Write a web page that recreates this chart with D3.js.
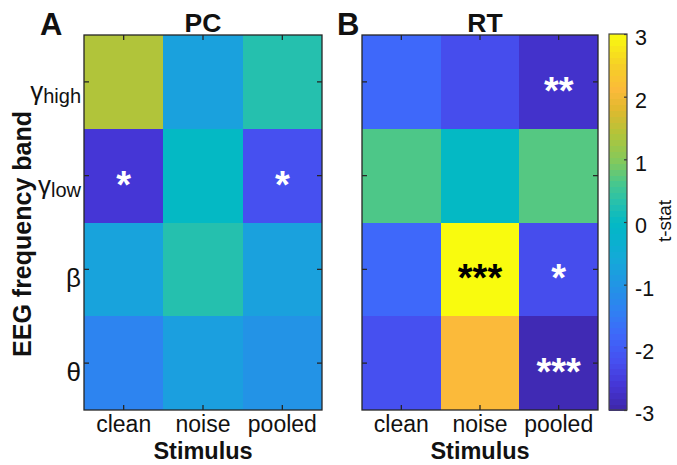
<!DOCTYPE html>
<html><head><meta charset="utf-8">
<script src="https://cdn.jsdelivr.net/npm/d3@7"></script>
<style>
html,body{margin:0;padding:0;background:#fff;}
svg{display:block;font-family:"Liberation Sans",Arial,Helvetica,sans-serif;}
</style></head>
<body><svg id="chart" width="677" height="465"></svg>
<script>
// ---------- data ----------
const stimuli = ["clean", "noise", "pooled"];
const bandSymbols = ["γ", "γ", "β", "θ"];
const bandSubs = ["high", "low", "", ""];
const bandKeys = ["ghigh", "glow", "beta", "theta"];
const pcValues = [
  [1.4, -0.75, 0.3],
  [-2.6, 0.0, -2.2],
  [-0.7, 0.3, -0.75],
  [-1.35, -0.8, -1.05]
];
const rtValues = [
  [-1.8, -2.25, -2.7],
  [0.65, 0.0, 0.7],
  [-1.8, 3.0, -2.25],
  [-2.2, 2.1, -2.9]
];
const pcStars = [["", "", ""], ["*", "", "*"], ["", "", ""], ["", "", ""]];
const rtStars = [["", "", "**"], ["", "", ""], ["", "***", "*"], ["", "", "***"]];
const colorbarTicks = [-3, -2, -1, 0, 1, 2, 3];
const panelTitles = ["PC", "RT"];
const panelLetters = ["A", "B"];

// parula-like colormap stops (value -> colour)
const cmapValues = [-3.0, -2.6, -2.2, -1.8, -1.4, -1.0, -0.6, -0.2, 0.0, 0.3, 0.6, 1.0, 1.4, 1.8, 2.1, 2.5, 3.0];
const cmapColors = ["#3e26a8", "#4536d6", "#4650f0", "#3e68fa", "#2f81f2", "#2195e4", "#15a8d9", "#06b4cb",
  "#04b9c4", "#25c0ae", "#45c78f", "#86c95a", "#b1c43a", "#e0b92e", "#fbba3a", "#f6cf27", "#f9fb0e"];

// ---------- drawing ----------
const svg = d3.select("#chart");
const color = d3.scaleLinear().domain(cmapValues).range(cmapColors).interpolate(d3.interpolateRgb).clamp(true);
const plotTop = 35, plotBottom = 410;
const y = d3.scaleBand().domain(bandKeys).range([plotTop, plotBottom]).padding(0);
const frameColor = "#262626";

const panels = [
  {x0: 84, x1: 322, values: pcValues, stars: pcStars, title: panelTitles[0], letter: panelLetters[0], letterX: 40, yLabels: true},
  {x0: 362, x1: 598, values: rtValues, stars: rtStars, title: panelTitles[1], letter: panelLetters[1], letterX: 337, yLabels: false}
];

panels.forEach(p => {
  const x = d3.scaleBand().domain(stimuli).range([p.x0, p.x1]).padding(0);
  const g = svg.append("g");
  const cells = [];
  bandKeys.forEach((b, i) => stimuli.forEach((s, j) => cells.push({b, s, v: p.values[i][j], star: p.stars[i][j]})));
  g.selectAll("rect.cell").data(cells).join("rect")
    .attr("x", d => x(d.s)).attr("y", d => y(d.b))
    .attr("width", x.bandwidth()).attr("height", y.bandwidth())
    .attr("fill", d => color(d.v)).attr("shape-rendering", "crispEdges");
  g.selectAll("text.star").data(cells.filter(d => d.star)).join("text")
    .attr("x", d => x(d.s) + x.bandwidth() / 2)
    .attr("y", d => y(d.b) + y.bandwidth() / 2 + 22)
    .attr("text-anchor", "middle")
    .attr("font-size", 38).attr("font-weight", "bold")
    .attr("fill", d => d.v > 2.5 ? "#000" : "#fff")
    .text(d => d.star);

  // axes (ticks inward)
  const axB = d3.axisBottom(x).tickSize(-5).tickSizeOuter(0).tickPadding(10);
  const axT = d3.axisTop(x).tickSize(-5).tickSizeOuter(0).tickFormat("");
  const axL = d3.axisLeft(y).tickSize(-5).tickSizeOuter(0).tickFormat("");
  const axR = d3.axisRight(y).tickSize(-5).tickSizeOuter(0).tickFormat("");
  const gb = g.append("g").attr("transform", `translate(0,${plotBottom})`).call(axB);
  g.append("g").attr("transform", `translate(0,${plotTop})`).call(axT);
  g.append("g").attr("transform", `translate(${p.x0},0)`).call(axL);
  g.append("g").attr("transform", `translate(${p.x1},0)`).call(axR);
  g.selectAll(".domain").remove();
  g.selectAll(".tick line").attr("stroke", frameColor).attr("stroke-width", 1.3);
  gb.selectAll(".tick text").attr("font-size", 23).attr("fill", "#111")
    .attr("font-family", "'Liberation Sans',Arial,sans-serif").attr("dy", null).attr("y", 22);
  g.append("rect").attr("x", p.x0).attr("y", plotTop).attr("width", p.x1 - p.x0).attr("height", plotBottom - plotTop)
    .attr("fill", "none").attr("stroke", frameColor).attr("stroke-width", 1.3);

  // x label
  g.append("text").attr("x", (p.x0 + p.x1) / 2).attr("y", 459).attr("text-anchor", "middle")
    .attr("font-size", 23.5).attr("font-weight", "bold").attr("fill", "#111").text("Stimulus");
  // title
  g.append("text").attr("x", (p.x0 + p.x1) / 2 + (p.yLabels ? 0 : 5)).attr("y", 32).attr("text-anchor", "middle")
    .attr("font-size", 26.5).attr("font-weight", "bold").attr("fill", "#111").text(p.title);
  g.append("text").attr("x", p.letterX).attr("y", 35)
    .attr("font-size", 31).attr("font-weight", "bold").attr("fill", "#111").text(p.letter);

  if (p.yLabels) {
    bandKeys.forEach((b, i) => {
      const t = g.append("text").attr("x", 81).attr("y", y(b) + y.bandwidth() / 2 + 18)
        .attr("text-anchor", "end").attr("font-size", 26).attr("fill", "#111");
      t.append("tspan").text(bandSymbols[i]);
      if (bandSubs[i]) t.append("tspan").attr("font-size", 20).attr("dy", 3).text(bandSubs[i]);
    });
    g.append("text").attr("transform", `translate(31,234) rotate(-90)`).attr("text-anchor", "middle")
      .attr("font-size", 25).attr("font-weight", "bold").attr("fill", "#111").text("EEG frequency band");
  }
});

// ---------- colorbar ----------
const cbX0 = 609, cbX1 = 627, cbTop = 34, cbBot = 410;
const cy = d3.scaleLinear().domain([-3, 3]).range([cbBot, cbTop]);
const nLevels = 64;
const levels = d3.range(nLevels).map(k => -3 + (k + 0.5) * 6 / nLevels);
const step = 6 / nLevels;
svg.append("g").selectAll("rect").data(levels).join("rect")
  .attr("x", cbX0).attr("width", cbX1 - cbX0)
  .attr("y", d => cy(d + step / 2)).attr("height", d => cy(d - step / 2) - cy(d + step / 2) + 0.5)
  .attr("fill", d => color(d)).attr("shape-rendering", "crispEdges");
const cbAxis = d3.axisRight(cy).tickValues(colorbarTicks).tickSize(-3).tickPadding(8).tickSizeOuter(0)
  .tickFormat(d => d < 0 ? "-" + Math.abs(d) : String(d));
const cbg = svg.append("g").attr("transform", `translate(${cbX1},0)`).call(cbAxis);
cbg.select(".domain").remove();
cbg.selectAll(".tick line").attr("stroke", "#333").attr("stroke-width", 1.2);
cbg.selectAll(".tick text").attr("font-size", 21.5).attr("fill", "#111").attr("dy", "0.5em")
  .attr("font-family", "'Liberation Sans',Arial,sans-serif");
svg.append("rect").attr("x", cbX0).attr("y", cbTop).attr("width", cbX1 - cbX0).attr("height", cbBot - cbTop)
  .attr("fill", "none").attr("stroke", "#444").attr("stroke-width", 1.2);
svg.append("text").attr("transform", "translate(671,221) rotate(-90)").attr("text-anchor", "middle")
  .attr("font-size", 19).attr("fill", "#111").text("t-stat");
</script>
</body></html>
